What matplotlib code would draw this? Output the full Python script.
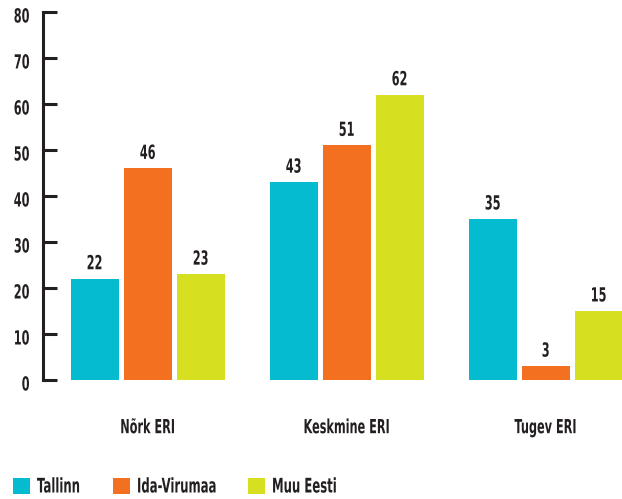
import matplotlib
matplotlib.use("Agg")
import matplotlib.pyplot as plt
import numpy as np
from matplotlib.patches import Rectangle
from matplotlib.patheffects import AbstractPathEffect
from matplotlib.transforms import Affine2D, ScaledTranslation

categories = ["Nõrk ERI", "Keskmine ERI", "Tugev ERI"]
series_names = ["Tallinn", "Ida-Virumaa", "Muu Eesti"]
tallinn = [22, 43, 35]
ida_virumaa = [46, 51, 3]
muu_eesti = [23, 62, 15]
yticks = [0, 10, 20, 30, 40, 50, 60, 70, 80]

colors = ["#05BBD0", "#F37021", "#D6E021"]
txt = "#231F20"
plt.rcParams['font.family'] = ['DejaVu Sans']
fs = 14
SX = 0.58


class Squeeze(AbstractPathEffect):
    """Horizontally condense text glyphs (emulates a condensed typeface)."""
    def __init__(self, sx=SX, anchor='center'):
        super().__init__()
        self.sx = sx
        self.anchor = anchor

    def draw_path(self, renderer, gc, tpath, affine, rgbFace=None):
        v = tpath.vertices
        xmax = v[:, 0].max() if len(v) else 0
        a = {'left': 0.0, 'center': xmax / 2.0, 'right': xmax}[self.anchor]
        t = Affine2D().translate(-a, 0).scale(self.sx, 1).translate(a, 0) + affine
        renderer.draw_path(gc, tpath, t, rgbFace)


fig = plt.figure(figsize=(6.22, 4.99), dpi=100)
ax = fig.add_axes([43/622, (499-380)/499, (622-43)/622, (380-12)/499])

x = np.arange(len(categories))
width = 48/199
step = 53/199
for i, (vals, c) in enumerate(zip([tallinn, ida_virumaa, muu_eesti], colors)):
    pos = x + (i-1)*step
    ax.bar(pos, vals, width=width, color=c, linewidth=0)
    for p, v in zip(pos, vals):
        ax.annotate(str(v), (p, v), xytext=(0, 4), textcoords='offset points',
                    ha='center', va='bottom', fontsize=fs, color=txt, fontweight='bold',
                    path_effects=[Squeeze(anchor='center')])

ax.set_xlim(-105/199, (622-546)/199 + 2)
ax.set_ylim(0, 80)
ax.set_yticks(yticks)
ax.tick_params(axis='y', direction='in', length=10, width=2.2, color=txt, pad=9.5,
               labelsize=fs, labelcolor=txt)
shift = ScaledTranslation(0, -3/100, fig.dpi_scale_trans)
for lab in ax.get_yticklabels():
    lab.set_fontweight('bold')
    lab.set_path_effects([Squeeze(anchor='right')])
    lab.set_transform(lab.get_transform() + shift)
ax.set_xticks(x)
ax.set_xticklabels(categories, fontsize=fs, color=txt, fontweight='bold')
for lab in ax.get_xticklabels():
    lab.set_path_effects([Squeeze(anchor='center')])
ax.tick_params(axis='x', length=0, pad=27.5)
for s in ['top', 'right', 'bottom']:
    ax.spines[s].set_visible(False)
ax.spines['left'].set_linewidth(2.2)
ax.spines['left'].set_color(txt)

# legend
legend_x = [13, 113, 248]
for lx, c, n in zip(legend_x, colors, series_names):
    fig.add_artist(Rectangle((lx/622, 5/499), 17/622, 16/499, transform=fig.transFigure,
                             facecolor=c, edgecolor='none'))
    fig.text((lx + 24)/622, 12/499, n, ha='left', va='center', fontsize=14.5,
             fontweight='bold', color=txt, path_effects=[Squeeze(anchor='left')])

fig.savefig("out.png", dpi=100)
